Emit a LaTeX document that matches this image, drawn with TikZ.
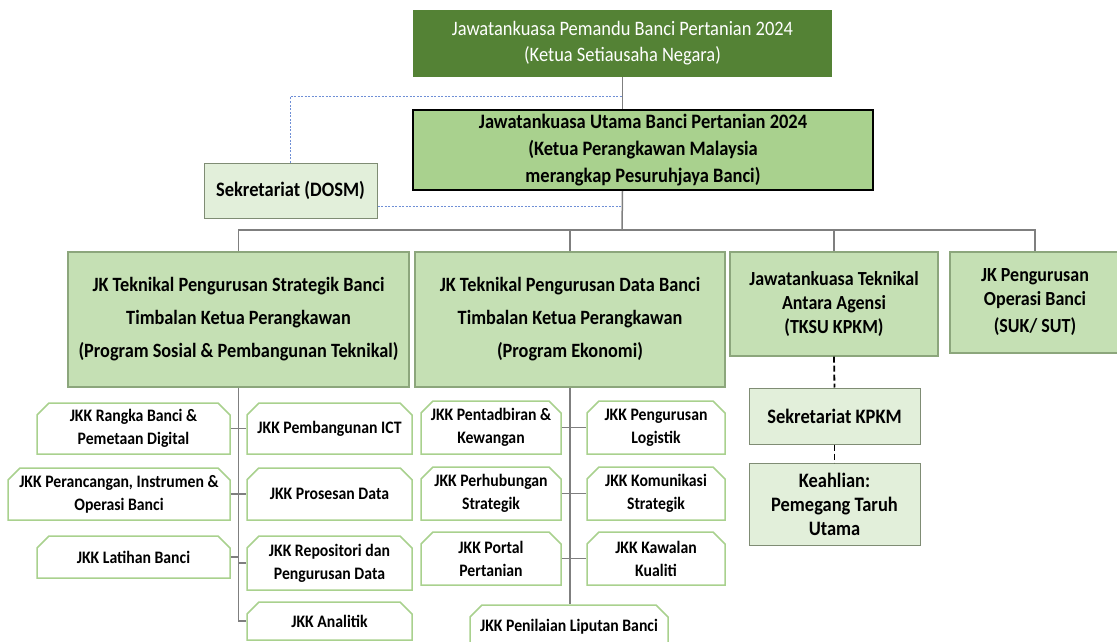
\documentclass[tikz,border=0pt]{standalone}
\usepackage{fontspec}
\setmainfont[FakeStretch=0.9]{Carlito}
\usepackage{xcolor}
\usetikzlibrary{shapes.misc}

\definecolor{pemandu}{HTML}{548235}
\definecolor{utama}{HTML}{A9D18E}
\definecolor{jkfill}{HTML}{C5E0B4}
\definecolor{jkline}{HTML}{8CA67C}
\definecolor{sekfill}{HTML}{E2EFDA}
\definecolor{sekline}{HTML}{7F8C74}
\definecolor{jkkline}{HTML}{A9D18E}
\definecolor{linkblue}{HTML}{6F8FD6}
\definecolor{trunk}{HTML}{7F7F7F}

\tikzset{
  jk/.style={draw=jkline, line width=1.2pt, fill=jkfill, align=center, inner sep=0pt,
    font=\bfseries\fontsize{20}{24}\selectfont},
  sek/.style={draw=sekline, line width=1pt, fill=sekfill, align=center, inner sep=0pt,
    font=\bfseries\fontsize{20.5}{24}\selectfont},
  jkk/.style={chamfered rectangle, chamfered rectangle corners={north west,north east},
    chamfered rectangle xsep=6pt, chamfered rectangle ysep=6pt,
    draw=jkkline, line width=1.5pt, fill=white, align=center, inner sep=0pt,
    font=\bfseries\fontsize{17.5}{23}\selectfont},
  line/.style={draw=trunk, line width=1.5pt},
  link/.style={draw=linkblue, line width=0.8pt, dash pattern=on 2pt off 1.5pt},
  tie/.style={draw=black, line width=1.8pt, dash pattern=on 6pt off 3pt}
}

\begin{document}
\begin{tikzpicture}[x=1pt,y=-1pt]
      \useasboundingbox (0,0) rectangle (1117,642);
      % Top committees
      \node[fill=pemandu, text=white, align=center, minimum width=419pt, minimum height=67pt,
        inner sep=0pt, font=\fontsize{20.5}{26}\selectfont] (pemandu) at (622.5,43.5)
        {Jawatankuasa Pemandu Banci Pertanian 2024\\(Ketua Setiausaha Negara)};
      \node[draw=black, line width=2pt, fill=utama, align=center, minimum width=460pt, minimum height=80pt,
        inner sep=0pt, font=\bfseries\fontsize{20.5}{27}\selectfont] (utama) at (643,150)
        {Jawatankuasa Utama Banci Pertanian 2024\\(Ketua Perangkawan Malaysia\\merangkap Pesuruhjaya Banci)};
      \node[sek, minimum width=173pt, minimum height=55pt] (dosm) at (290.5,190.5) {Sekretariat (DOSM)};
      % Technical committees
      \node[jk, minimum width=341pt, minimum height=135pt, font=\bfseries\fontsize{20.3}{33}\selectfont] (strategik) at (238.5,319.5)
        {JK Teknikal Pengurusan Strategik Banci\\Timbalan Ketua Perangkawan\\(Program Sosial \& Pembangunan Teknikal)};
      \node[jk, minimum width=310pt, minimum height=135pt, font=\bfseries\fontsize{20.3}{33}\selectfont] (data) at (570,319.5)
        {JK Teknikal Pengurusan Data Banci\\Timbalan Ketua Perangkawan\\(Program Ekonomi)};
      \node[jk, minimum width=208pt, minimum height=104pt] (agensi) at (834,304)
        {Jawatankuasa Teknikal\\Antara Agensi\\(TKSU KPKM)};
      \node[jk, minimum width=170pt, minimum height=101pt] (operasi) at (1035,302.5)
        {JK Pengurusan\\Operasi Banci\\[3pt](SUK/ SUT)};
      \node[sek, minimum width=171pt, minimum height=56pt] (kpkm) at (834.5,416) {Sekretariat KPKM};
      \node[sek, minimum width=171pt, minimum height=82pt] (keahlian) at (834.5,504)
        {Keahlian:\\Pemegang Taruh\\Utama};
      % Sub-committees under strategik
      \node[jkk, minimum width=193pt, minimum height=51pt] (rangka) at (133.5,428.5) {JKK Rangka Banci \&\\Pemetaan Digital};
      \node[jkk, minimum width=222pt, minimum height=52pt] (rancang) at (119,494) {JKK Perancangan, Instrumen \&\\Operasi Banci};
      \node[jkk, minimum width=193pt, minimum height=42pt] (latihan) at (133.5,557) {JKK Latihan Banci};
      \node[jkk, minimum width=165pt, minimum height=51pt] (ict) at (329.5,428.5) {JKK Pembangunan ICT};
      \node[jkk, minimum width=165pt, minimum height=52pt] (prosesan) at (329.5,494) {JKK Prosesan Data};
      \node[jkk, minimum width=165pt, minimum height=54pt] (repositori) at (329.5,563) {JKK Repositori dan\\Pengurusan Data};
      \node[jkk, minimum width=165pt, minimum height=38pt] (analitik) at (329.5,621) {JKK Analitik};
      % Sub-committees under data
      \node[jkk, minimum width=140pt, minimum height=53pt] (tadbir) at (491,427.5) {JKK Pentadbiran \&\\Kewangan};
      \node[jkk, minimum width=138pt, minimum height=53pt] (logistik) at (656,427.5) {JKK Pengurusan\\Logistik};
      \node[jkk, minimum width=140pt, minimum height=53pt] (hubung) at (491,493.5) {JKK Perhubungan\\Strategik};
      \node[jkk, minimum width=138pt, minimum height=53pt] (komunikasi) at (656,493.5) {JKK Komunikasi\\Strategik};
      \node[jkk, minimum width=140pt, minimum height=53pt] (portal) at (491,558.5) {JKK Portal\\Pertanian};
      \node[jkk, minimum width=138pt, minimum height=53pt] (kawalan) at (656,558.5) {JKK Kawalan\\Kualiti};
      \node[jkk, minimum width=198pt, minimum height=43pt] (liputan) at (569,626.5) {JKK Penilaian Liputan Banci};
      % Hierarchy lines
      \coordinate (hub) at (622,230);
      \coordinate (tap) at (622,96);
      \draw[line] (pemandu.south) -- (pemandu.south |- utama.north);
      \draw[line] (pemandu.south |- utama.south) -- (hub);
      \draw[line] (strategik.north) |- (hub) -| (operasi.north);
      \draw[line] (data.north) -- (data.north |- hub);
      \draw[line] (agensi.north) -- (agensi.north |- hub);
      % Secretariat links
      \draw[link] (dosm.north) |- (tap);
      \draw[link] ([yshift=-15.5pt]dosm.east) -- ++(245,0);
      \draw[tie] (agensi.south) -- (kpkm.north);
      \draw[tie] (kpkm.south) -- (keahlian.north);
      % Trunks to sub-committees
      \draw[line] (strategik.south) |- (analitik.west);
      \draw[line] (rangka.east) -- (ict.west);
      \draw[line] (rancang.east) -- (prosesan.west);
      \draw[line] (latihan.east) -- (latihan.east -| strategik.south) |- (repositori.west);
      \draw[line] (data.south) -- (data.south |- liputan.north);
      \draw[line] (tadbir.east) -- (logistik.west);
      \draw[line] (hubung.east) -- (komunikasi.west);
      \draw[line] (portal.east) -- (kawalan.west);
    \end{tikzpicture}
\end{document}
